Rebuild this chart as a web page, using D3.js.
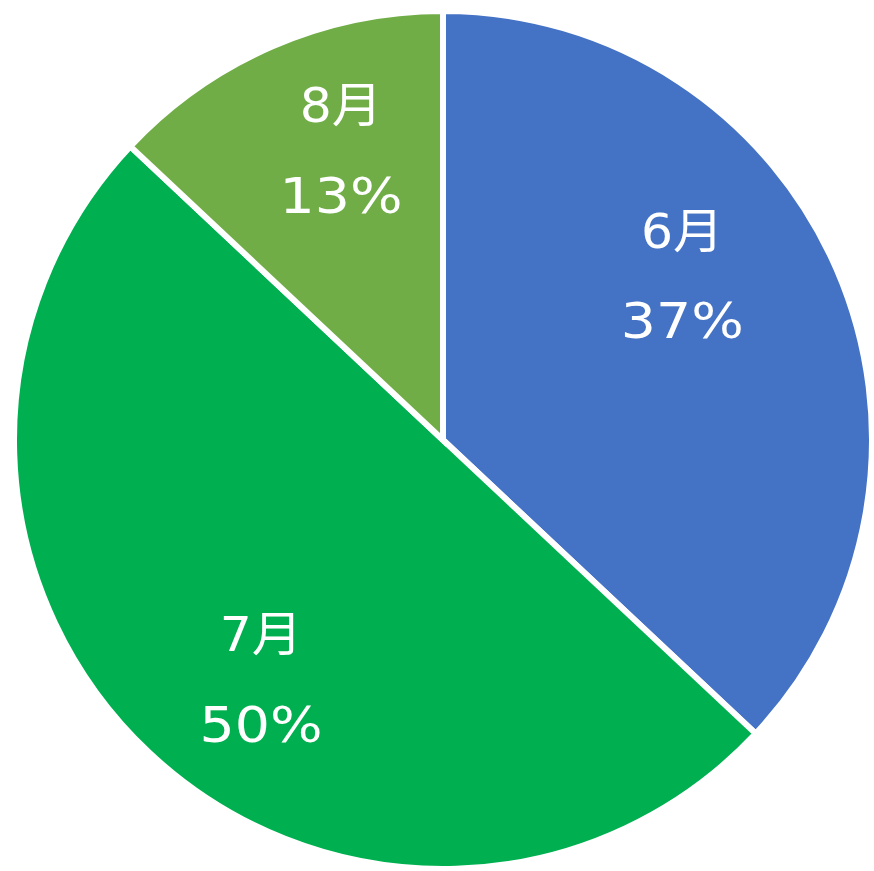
<!DOCTYPE html>
<html lang="ja">
<head>
<meta charset="UTF-8">
<title>Pie Chart</title>
<script src="https://d3js.org/d3.v7.min.js"></script>
<style>
  body { margin: 0; background: #fff; }
</style>
</head>
<body>
<svg width="874" height="871"></svg>
<script>
  // data
  const months = ["6月", "7月", "8月"];
  const shares = [37, 50, 13];
  const colors = ["#4472C4", "#00B050", "#70AD47"];

  const cx = 443, cy = 440, radius = 429;

  // label placement tweaks (degrees off the mid angle, distance from centre),
  // mimicking where the spreadsheet put the data labels
  const labelLayout = {
    "6月": { turn: -11, dist: 290 },
    "7月": { turn: -6, dist: 301 },
    "8月": { turn: 4, dist: 307 }
  };

  const data = months.map((m, i) => ({ label: m, value: shares[i], color: colors[i] }));
  const total = d3.sum(shares);

  const svg = d3.select("svg")
    .append("g")
    .attr("transform", `translate(${cx},${cy})`);

  const pie = d3.pie().value(d => d.value).sort(null);
  const arc = d3.arc().innerRadius(0).outerRadius(radius);

  // slices
  svg.selectAll("path")
    .data(pie(data))
    .enter()
    .append("path")
    .attr("d", arc)
    .attr("fill", d => d.data.color)
    .attr("stroke", "white")
    .attr("stroke-width", 6);

  // labels: month on first line, percent on second
  const labels = svg.selectAll("g.label")
    .data(pie(data))
    .enter()
    .append("g")
    .attr("class", "label")
    .attr("transform", d => {
      const lay = labelLayout[d.data.label];
      const a = (d.startAngle + d.endAngle) / 2 + lay.turn * Math.PI / 180;
      return `translate(${Math.sin(a) * lay.dist},${-Math.cos(a) * lay.dist})`;
    });

  const font = "'DejaVu Sans', 'Noto Sans CJK JP', sans-serif";

  // the original font is wider than DejaVu, so stretch a little horizontally
  labels.append("text")
    .attr("transform", "translate(0,-45) scale(1.05,1)")
    .attr("text-anchor", "middle")
    .attr("dominant-baseline", "central")
    .attr("fill", "white")
    .style("font-family", font)
    .style("font-size", "48px")
    .text(d => d.data.label);

  labels.append("text")
    .attr("transform", "translate(0,45) scale(1.13,1)")
    .attr("text-anchor", "middle")
    .attr("dominant-baseline", "central")
    .attr("fill", "white")
    .style("font-family", font)
    .style("font-size", "49px")
    .text(d => `${Math.round(d.data.value / total * 100)}%`);
</script>
</body>
</html>
